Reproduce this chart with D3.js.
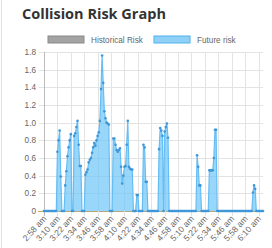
<!DOCTYPE html>
<html>
<head>
<meta charset="utf-8">
<script src="https://cdn.jsdelivr.net/npm/d3@7"></script>
<style>
  body { margin: 0; background: #fff; }
  svg { display: block; }
</style>
</head>
<body>
<div class="board"></div>
<script>
var WIDTH = 272;
var HEIGHT = 248;

// one reading per minute, starting 2:58 am
var tickLabels = ['2:58 am', '3:10 am', '3:22 am', '3:34 am', '3:46 am', '3:58 am',
  '4:10 am', '4:22 am', '4:34 am', '4:46 am', '4:58 am', '5:10 am', '5:22 am',
  '5:34 am', '5:46 am', '5:58 am', '6:10 am'];
var tickEvery = 12;
var yTicks = [0, 0.2, 0.4, 0.6, 0.8, 1.0, 1.2, 1.4, 1.6, 1.8];
var seriesNames = ['Historical Risk', 'Future risk'];
var historical = [];
var future = [
  0, 0, 0, 0, 0, 0, 0, 0, 0, 0, 0, 0,
  .67, .80, .91, .39, 0, 0, 0, .29, .45, .62, .72, .80,
  .87, 0, 0, .85, .88, .95, 1.02, .75, .51, .51, 0, 0,
  0, .41, .44, .47, .55, .58, .60, .66, .72, .77, .74, .80,
  .85, .89, 1.02, 1.38, 1.76, 1.45, 1.13, 1.05, 1.0, .99, .98, 0,
  0, 0, .82, .82, .75, .69, .67, .69, .71, .5, .31, .40,
  .50, .51, .75, 1.02, .5, .48, .47, .47, 0, 0, 0, .18,
  .18, 0, 0, 0, 0, .75, .72, .33, .33, 0, 0, 0,
  0, 0, 0, 0, 0, 0, 0, .70, .94, .91, .85, 0,
  .9, .95, .99, .83, 0, 0, 0, 0, 0, 0, 0, 0,
  0, 0, 0, 0, 0, 0, 0, 0, 0, 0, 0, 0,
  0, 0, 0, 0, 0, .63, .5, .29, .29, 0, 0, 0,
  0, 0, 0, 0, .46, .46, .46, .46, .6, .92, .92, 0,
  0, 0, 0, 0, 0, 0, 0, 0, 0, 0, 0, 0,
  0, 0, 0, 0, 0, 0, 0, 0, 0, 0, 0, 0,
  0, 0, 0, 0, 0, 0, 0, .21, .29, .25, 0, 0,
  0, 0, 0, 0, 0
];

var margin = { left: 44, right: 9, top: 52, bottom: 37 };
var font = '"Liberation Sans", Arial, sans-serif';

var svg = d3.select('.board')
  .append('svg')
  .attr('width', WIDTH)
  .attr('height', HEIGHT);

svg.append('rect')
  .attr('width', WIDTH)
  .attr('height', HEIGHT)
  .attr('fill', '#fff');

svg.append('line')
  .attr('x1', 1.5).attr('x2', 1.5)
  .attr('y1', 0).attr('y2', HEIGHT)
  .attr('stroke', '#e6dde2');

svg.append('text')
  .attr('x', 22)
  .attr('y', 19)
  .attr('font-family', '"Open Sans", sans-serif')
  .attr('font-weight', 'bold')
  .attr('font-size', 14.5)
  .attr('fill', '#333')
  .text('Collision Risk Graph');

var x = d3.scaleLinear()
  .domain([0, future.length - 1])
  .range([margin.left, WIDTH - margin.right]);

var y = d3.scaleLinear()
  .domain([0, 1.8])
  .range([HEIGHT - margin.bottom, margin.top]);

// legend
var legendColors = [
  { fill: '#a3a3a3', stroke: '#8a8a8a' },
  { fill: '#8fd0f7', stroke: '#4eb1ee' }
];
var legendX = [48, 154];
var legend = svg.selectAll('.legend')
  .data(seriesNames)
  .enter()
  .append('g')
  .attr('transform', function(d, i) { return 'translate(' + legendX[i] + ',36)'; });
legend.append('rect')
  .attr('width', 36)
  .attr('height', 7)
  .attr('fill', function(d, i) { return legendColors[i].fill; })
  .attr('stroke', function(d, i) { return legendColors[i].stroke; });
legend.append('text')
  .attr('x', 43)
  .attr('y', 6.5)
  .attr('font-family', font)
  .attr('font-size', 8.2)
  .attr('fill', '#666')
  .text(function(d) { return d; });

// grid
var grid = svg.append('g');
grid.selectAll('.hgrid')
  .data(yTicks)
  .enter()
  .append('line')
  .attr('x1', margin.left)
  .attr('x2', WIDTH - margin.right)
  .attr('y1', function(d) { return Math.round(y(d)) + 0.5; })
  .attr('y2', function(d) { return Math.round(y(d)) + 0.5; })
  .attr('stroke', function(d) { return d === 0 ? '#b9a77a' : '#e3e3e3'; });

grid.selectAll('.vgrid')
  .data(tickLabels)
  .enter()
  .append('line')
  .attr('x1', function(d, i) { return Math.round(x(i * tickEvery)) + 0.5; })
  .attr('x2', function(d, i) { return Math.round(x(i * tickEvery)) + 0.5; })
  .attr('y1', margin.top)
  .attr('y2', HEIGHT - margin.bottom + 5)
  .attr('stroke', function(d, i) { return i === 0 ? '#bbb' : '#e3e3e3'; });

// zero tick to the left
svg.append('line')
  .attr('x1', margin.left - 6)
  .attr('x2', margin.left)
  .attr('y1', Math.round(y(0)) + 0.5)
  .attr('y2', Math.round(y(0)) + 0.5)
  .attr('stroke', '#c9a45a');
svg.selectAll('.ytick')
  .data(yTicks.slice(1))
  .enter()
  .append('line')
  .attr('x1', margin.left - 5)
  .attr('x2', margin.left)
  .attr('y1', function(d) { return Math.round(y(d)) + 0.5; })
  .attr('y2', function(d) { return Math.round(y(d)) + 0.5; })
  .attr('stroke', '#e3e3e3');

// y labels
svg.selectAll('.ylab')
  .data(yTicks)
  .enter()
  .append('text')
  .attr('x', margin.left - 8)
  .attr('y', function(d) { return y(d) + 3; })
  .attr('text-anchor', 'end')
  .attr('font-family', font)
  .attr('font-size', 8.2)
  .attr('fill', '#666')
  .text(function(d) { return d === 0 ? '0' : d.toFixed(1); });

// x labels
svg.selectAll('.xlab')
  .data(tickLabels)
  .enter()
  .append('text')
  .attr('transform', function(d, i) {
    return 'translate(' + (x(i * tickEvery) + 3) + ',' + (HEIGHT - margin.bottom + 8) + ') rotate(-48)';
  })
  .attr('text-anchor', 'end')
  .attr('font-family', font)
  .attr('font-size', 8.5)
  .attr('fill', '#666')
  .text(function(d) { return d; });

// future risk series
var area = d3.area()
  .x(function(d, i) { return x(i); })
  .y0(y(0))
  .y1(function(d) { return y(d); });
var line = d3.line()
  .x(function(d, i) { return x(i); })
  .y(function(d) { return y(d); });

svg.append('path')
  .datum(future)
  .attr('d', area)
  .attr('fill', 'rgba(110,198,248,0.7)');
svg.append('path')
  .datum(future)
  .attr('d', line)
  .attr('fill', 'none')
  .attr('stroke', '#66bdf3')
  .attr('stroke-width', 1.2);
svg.selectAll('.pt')
  .data(future)
  .enter()
  .append('circle')
  .attr('cx', function(d, i) { return x(i); })
  .attr('cy', function(d) { return y(d); })
  .attr('r', 1.3)
  .attr('fill', '#3f97d8');
</script>
</body>
</html>
